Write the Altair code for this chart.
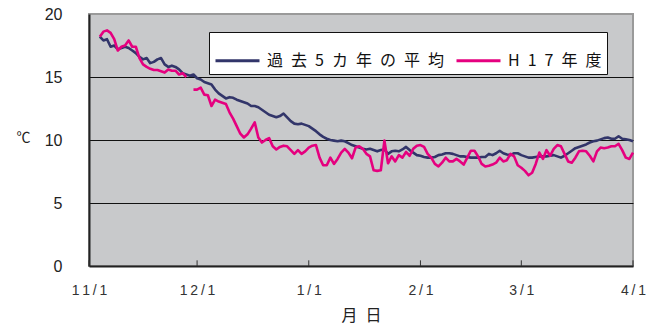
import altair as alt
import pandas as pd

# Daily mean water temperature, 11/4 .. 4/1
DATES = pd.date_range("2005-11-04", "2006-04-01", freq="D").strftime("%Y-%m-%d").tolist()

SERIES = ["過去5カ年の平均", "H17年度"]
COLORS = ["#32356a", "#e5007f"]

AVG5 = [
    18.2, 17.9, 18.0, 17.4, 17.5, 17.2, 17.3, 17.4, 17.3, 17.1,
    16.9, 16.6, 16.4, 16.5, 16.1, 16.2, 16.4, 16.5, 16.0, 15.8,
    15.9, 15.8, 15.6, 15.3, 15.2, 15.1, 15.2, 14.9, 14.8, 14.6,
    14.5, 14.4, 14.0, 13.7, 13.5, 13.3, 13.4, 13.35, 13.2, 13.1,
    13.0, 12.9, 12.7, 12.7, 12.6, 12.4, 12.2, 12.0, 11.9, 11.8,
    11.9, 12.1, 11.8, 11.5, 11.3, 11.25, 11.3, 11.2, 11.1, 10.9,
    10.7, 10.45, 10.25, 10.1, 10.0, 9.95, 9.9, 9.95, 9.9, 9.75,
    9.6, 9.5, 9.4, 9.3, 9.25, 9.3, 9.2, 9.1, 9.2, 9.25,
    8.9, 9.1, 9.15, 9.1, 9.25, 9.45, 9.2, 9.0, 8.8, 8.75,
    8.65, 8.6, 8.6, 8.65, 8.8, 8.85, 8.95, 8.95, 8.9, 8.8,
    8.7, 8.7, 8.65, 8.6, 8.6, 8.6, 8.65, 8.65, 8.9, 8.8,
    8.95, 9.15, 8.95, 8.85, 8.8, 8.95, 8.95, 8.8, 8.7, 8.6,
    8.6, 8.65, 8.7, 8.7, 8.7, 8.75, 8.8, 8.7, 8.6, 8.75,
    8.95, 9.15, 9.35, 9.45, 9.55, 9.65, 9.8, 9.9, 9.95, 10.05,
    10.15, 10.2, 10.1, 10.1, 10.3, 10.1, 10.05, 10.0, 9.9,
]

H17 = [
    18.2, 18.6, 18.7, 18.5, 18.0, 17.1, 17.4, 17.5, 17.9, 17.4,
    17.4, 16.5, 16.0, 15.8, 15.65, 15.55, 15.55, 15.45, 15.35, 15.6,
    15.5, 15.5, 15.2, 15.3, 15.0, None, 14.0, 14.0, 14.15, 13.6,
    13.55, 12.7, 13.2, 13.05, 12.95, 12.85, 12.2, 11.7, 11.1, 10.5,
    10.2, 10.45, 10.9, 11.4, 10.2, 9.8, 10.0, 10.15, 9.5, 9.25,
    9.45, 9.55, 9.5, 9.2, 8.9, 9.2, 8.9, 9.1, 9.4, 9.55,
    9.6, 8.6, 8.0, 8.0, 8.6, 8.1, 8.5, 9.0, 9.3, 9.0,
    8.55, 9.4, 9.5, 9.3, 8.9, 8.7, 7.6, 7.55, 7.6, 9.95,
    8.15, 8.7, 8.3, 8.8, 8.6, 9.05, 8.75, 9.3, 9.55, 9.6,
    9.45, 8.9, 8.6, 8.1, 7.9, 8.2, 8.6, 8.3, 8.3, 8.5,
    8.3, 8.05, 8.6, 9.15, 9.15, 8.7, 8.1, 7.9, 7.95, 8.05,
    8.2, 8.6, 8.3, 8.4, 8.9, 8.7, 8.0, 7.8, 7.55, 7.2,
    7.4, 8.1, 9.0, 8.5, 9.2, 8.75, 9.3, 9.6, 9.5, 8.9,
    8.3, 8.2, 8.6, 9.1, 9.15, 9.1, 8.75, 8.3, 9.1, 9.4,
    9.35, 9.4, 9.5, 9.5, 9.7, 9.2, 8.6, 8.5, 9.0,
]

MONTH_TICKS = [(2005, 11), (2005, 12), (2006, 1), (2006, 2), (2006, 3), (2006, 4)]
Y_TICKS = [0, 5, 10, 15, 20]

# Long table; a missing day starts a new path segment
rows = []
for name, vals in zip(SERIES, [AVG5, H17]):
    seg = 0
    for d, v in zip(DATES, vals):
        if v is None:
            seg += 1
            continue
        rows.append({"date": d, "temp": v, "series": name, "seg": f"{name}-{seg}"})
df = pd.DataFrame(rows)

month_dt = [alt.DateTime(year=y, month=m, date=1, utc=True) for y, m in MONTH_TICKS]
ticks_df = pd.DataFrame({"date": [f"{y}-{m:02d}-01" for y, m in MONTH_TICKS]})

LABEL_FONT = "Liberation Sans"
JP_FONT = "Noto Sans CJK JP"

x_scale = alt.Scale(type="utc", domain=[month_dt[0], month_dt[-1]])
x_axis = alt.Axis(
    values=month_dt,
    labelExpr="join(split(utcFormat(datum.value, '%-m/%-d'), ''), '\u2009')",
    labelFont=LABEL_FONT,
    labelFontSize=14,
    labelColor="#333333",
    labelPadding=17,
    labelOverlap=False,
    labelFlush=False,
    tickSize=0,
    grid=False,
    domainColor="#222222",
    domainWidth=2,
    title="月\u2002日",
    titleFont=JP_FONT,
    titleFontSize=16,
    titleFontWeight="normal",
    titleColor="#222222",
    titleBaseline="middle",
    titleY=49,
)

y_scale = alt.Scale(domain=[0, 20], nice=False, zero=True)
y_axis = alt.Axis(
    values=Y_TICKS,
    labelFont=LABEL_FONT,
    labelFontSize=16,
    labelColor="#222222",
    labelPadding=27,
    tickSize=0,
    domainColor="#222222",
    domainWidth=2,
    grid=True,
    gridColor={
        "condition": {"test": "datum.value === 0 || datum.value === 20", "value": "transparent"},
        "value": "#111111",
    },
    gridWidth=1.2,
    title="℃",
    titleFont=JP_FONT,
    titleFontSize=14,
    titleFontWeight="normal",
    titleColor="#222222",
    titleAngle=0,
    titleAlign="center",
    titleBaseline="middle",
    titleX=-66,
    titleY=123,
)

color_enc = alt.Color(
    "series:N",
    scale=alt.Scale(domain=SERIES, range=COLORS),
    legend=alt.Legend(
        title=None,
        orient="none",
        legendX=120,
        legendY=18,
        direction="horizontal",
        symbolType="stroke",
        symbolStrokeWidth=3,
        symbolSize=44 * 44,
        labelFont=JP_FONT,
        labelFontSize=16,
        labelColor="#111111",
        labelExpr="join(split(datum.label, ''), '\u2002')",
        labelLimit=0,
        labelOffset=6,
        columnPadding=6,
        padding=5,
        fillColor="white",
        strokeColor="#111111",
    ),
)

lines = [
    alt.Chart(df)
    .transform_filter(alt.datum.series == name)
    .mark_line(strokeWidth=2.6, strokeJoin="round")
    .encode(
        x=alt.X("date:T", scale=x_scale, axis=x_axis),
        y=alt.Y("temp:Q", scale=y_scale, axis=y_axis),
        color=color_enc,
        detail="seg:N",
    )
    for name in SERIES
]

# Short inward tick marks at each month boundary
month_ticks = (
    alt.Chart(ticks_df)
    .mark_rule(color="#333333", strokeWidth=1)
    .encode(
        x=alt.X("date:T", scale=x_scale, axis=x_axis),
        y=alt.YDatum(0, scale=y_scale, axis=y_axis),
        y2=alt.Y2Datum(0.45),
    )
)

chart = (
    alt.layer(*lines, month_ticks)
    .properties(
        width=544,
        height=252,
        padding={"left": 89, "top": 14, "right": 26, "bottom": 58},
        autosize=alt.AutoSizeParams(type="none"),
        background="white",
    )
    .configure_view(fill="#c8c9cb", stroke="#9a9a9a", strokeWidth=2)
)

chart.save("out.html", embed_options={"renderer": "svg", "actions": False})
